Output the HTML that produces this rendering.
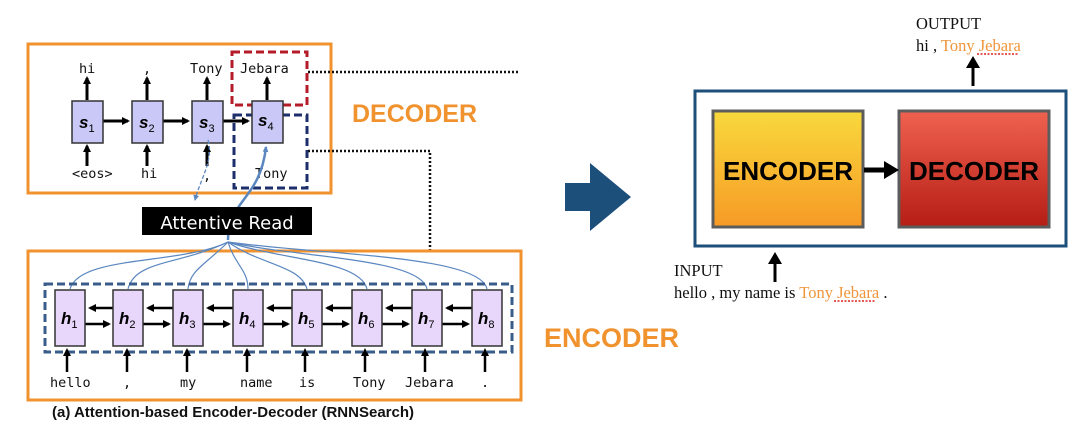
<!DOCTYPE html>
<html><head><style>
body{margin:0;background:#fff;width:1092px;height:442px;overflow:hidden;}
svg{display:block}
.m{font-family:"DejaVu Sans Mono","Liberation Mono",monospace;font-size:13.5px;fill:#111}
.hb{font-family:"Liberation Sans",sans-serif;font-weight:bold;font-style:italic;font-size:17px}
.sub{font-family:"Liberation Sans",sans-serif;font-size:11px;font-style:normal;font-weight:normal}
.se{font-family:"Liberation Serif",serif;font-size:16.5px;fill:#111}
</style></head><body>
<svg width="1092" height="442" viewBox="0 0 1092 442">
<defs>
<marker id="a" markerWidth="8" markerHeight="8" refX="6" refY="4" orient="auto" markerUnits="userSpaceOnUse"><path d="M0,0 L8,4 L0,8z" fill="#000"/></marker>
<marker id="b" markerWidth="6" markerHeight="6" refX="5" refY="3" orient="auto" markerUnits="userSpaceOnUse"><path d="M0,0 L6,3 L0,6z" fill="#5b87c0"/></marker>
<linearGradient id="ge" x1="0" y1="0" x2="0" y2="1"><stop offset="0" stop-color="#f8d93c"/><stop offset="1" stop-color="#f79a26"/></linearGradient>
<linearGradient id="gd" x1="0" y1="0" x2="0" y2="1"><stop offset="0" stop-color="#f06250"/><stop offset="1" stop-color="#b51d15"/></linearGradient>
</defs>
<rect x="28" y="44" width="303" height="149" fill="none" stroke="#f0932e" stroke-width="3"/>
<rect x="232" y="52" width="75" height="53" fill="none" stroke="#b51c2a" stroke-width="3" stroke-dasharray="8,4"/>
<rect x="234" y="115" width="73" height="73" fill="none" stroke="#1d2f6b" stroke-width="3" stroke-dasharray="8,4"/>
<path d="M308 72 H520" stroke="#111" stroke-width="2.5" stroke-dasharray="2,2"/>
<path d="M308 151 H430 V251 H520" fill="none" stroke="#111" stroke-width="2.5" stroke-dasharray="2,2"/>
<g stroke="#000" stroke-width="3">
<line x1="87" y1="100" x2="87" y2="78" marker-end="url(#a)"/><line x1="147" y1="100" x2="147" y2="78" marker-end="url(#a)"/>
<line x1="207" y1="100" x2="207" y2="78" marker-end="url(#a)"/><line x1="267" y1="100" x2="267" y2="78" marker-end="url(#a)"/>
<line x1="87" y1="166" x2="87" y2="146" marker-end="url(#a)"/><line x1="147" y1="166" x2="147" y2="146" marker-end="url(#a)"/>
<line x1="207" y1="166" x2="207" y2="146" marker-end="url(#a)"/>
<line x1="103" y1="121" x2="128" y2="121" marker-end="url(#a)"/><line x1="163" y1="121" x2="188" y2="121" marker-end="url(#a)"/>
<line x1="223" y1="121" x2="248" y2="121" marker-end="url(#a)"/>
</g>
<g fill="#c9c8f6" stroke="#333" stroke-width="1.5">
<rect x="72" y="101" width="31" height="42"/><rect x="132" y="101" width="31" height="42"/><rect x="192" y="101" width="31" height="42"/><rect x="252" y="101" width="31" height="42"/>
</g>
<g class="hb"><text x="79" y="128">s<tspan class="sub" dy="4">1</tspan></text><text x="139" y="128">s<tspan class="sub" dy="4">2</tspan></text><text x="199" y="128">s<tspan class="sub" dy="4">3</tspan></text><text x="258" y="126">s<tspan class="sub" dy="4">4</tspan></text></g>
<g class="m"><text x="79" y="73">hi</text><text x="143" y="73">,</text><text x="190" y="73">Tony</text><text x="240" y="73">Jebara</text>
<text x="72" y="178">&lt;eos&gt;</text><text x="141" y="178">hi</text><text x="203" y="180">,</text><text x="255" y="178">Tony</text></g>
<path d="M208 140 C214 160 200 180 195 200" fill="none" stroke="#5b87c0" stroke-width="1.3" stroke-dasharray="4,2" marker-end="url(#b)"/>
<path d="M228 240 C228 200 260 200 266 147" fill="none" stroke="#5b87c0" stroke-width="2.5" marker-end="url(#b)"/>
<text x="352" y="122" font-family="Liberation Sans,sans-serif" font-weight="bold" font-size="25" fill="#f0932e">DECODER</text>
<rect x="142" y="207" width="170" height="28" fill="#000"/>
<text x="227" y="229" text-anchor="middle" font-family="DejaVu Sans,sans-serif" font-size="18" fill="#fff">Attentive Read</text>
<rect x="28" y="251" width="493" height="149" fill="none" stroke="#f0932e" stroke-width="3"/>
<g fill="none" stroke="#5b87c0" stroke-width="1.2">
<path d="M228 242 C180 265 80 255 70 289"/><path d="M228 242 C180 265 135 260 128 289"/><path d="M228 242 C205 265 190 270 188 289"/>
<path d="M228 242 C235 265 248 270 248 289"/><path d="M228 242 C260 265 300 265 307 289"/><path d="M228 242 C280 260 360 260 367 289"/>
<path d="M228 242 C300 258 420 258 427 289"/><path d="M228 242 C320 255 480 255 487 289"/></g>
<rect x="45" y="284" width="467" height="68" fill="none" stroke="#3a5c8a" stroke-width="3" stroke-dasharray="8,4"/>
<g stroke="#000" stroke-width="2.5">
<line x1="113" y1="308" x2="90" y2="308" marker-end="url(#a)"/><line x1="85" y1="324" x2="109" y2="324" marker-end="url(#a)"/>
<line x1="173" y1="308" x2="148" y2="308" marker-end="url(#a)"/><line x1="143" y1="324" x2="169" y2="324" marker-end="url(#a)"/>
<line x1="233" y1="308" x2="208" y2="308" marker-end="url(#a)"/><line x1="203" y1="324" x2="229" y2="324" marker-end="url(#a)"/>
<line x1="292" y1="308" x2="268" y2="308" marker-end="url(#a)"/><line x1="263" y1="324" x2="288" y2="324" marker-end="url(#a)"/>
<line x1="352" y1="308" x2="327" y2="308" marker-end="url(#a)"/><line x1="322" y1="324" x2="348" y2="324" marker-end="url(#a)"/>
<line x1="412" y1="308" x2="387" y2="308" marker-end="url(#a)"/><line x1="382" y1="324" x2="408" y2="324" marker-end="url(#a)"/>
<line x1="472" y1="308" x2="447" y2="308" marker-end="url(#a)"/><line x1="442" y1="324" x2="468" y2="324" marker-end="url(#a)"/>
<line x1="67" y1="372" x2="67" y2="350" marker-end="url(#a)"/><line x1="127" y1="372" x2="127" y2="350" marker-end="url(#a)"/>
<line x1="187" y1="372" x2="187" y2="350" marker-end="url(#a)"/><line x1="247" y1="372" x2="247" y2="350" marker-end="url(#a)"/>
<line x1="305" y1="372" x2="305" y2="350" marker-end="url(#a)"/><line x1="365" y1="372" x2="365" y2="350" marker-end="url(#a)"/>
<line x1="425" y1="372" x2="425" y2="350" marker-end="url(#a)"/><line x1="485" y1="372" x2="485" y2="350" marker-end="url(#a)"/>
</g>
<g fill="#e8d6fb" stroke="#333" stroke-width="1.5">
<rect x="55" y="290" width="30" height="56"/><rect x="113" y="290" width="30" height="56"/><rect x="173" y="290" width="30" height="56"/><rect x="233" y="290" width="30" height="56"/>
<rect x="292" y="290" width="30" height="56"/><rect x="352" y="290" width="30" height="56"/><rect x="412" y="290" width="30" height="56"/><rect x="472" y="290" width="30" height="56"/>
</g>
<g class="hb"><text x="61" y="324">h<tspan class="sub" dy="4">1</tspan></text><text x="119" y="324">h<tspan class="sub" dy="4">2</tspan></text><text x="179" y="324">h<tspan class="sub" dy="4">3</tspan></text><text x="239" y="324">h<tspan class="sub" dy="4">4</tspan></text>
<text x="298" y="324">h<tspan class="sub" dy="4">5</tspan></text><text x="358" y="324">h<tspan class="sub" dy="4">6</tspan></text><text x="418" y="324">h<tspan class="sub" dy="4">7</tspan></text><text x="478" y="324">h<tspan class="sub" dy="4">8</tspan></text></g>
<g class="m"><text x="50" y="387">hello</text><text x="123" y="387">,</text><text x="180" y="387">my</text><text x="240" y="387">name</text><text x="299" y="387">is</text><text x="353" y="387">Tony</text><text x="405" y="387">Jebara</text><text x="481" y="387">.</text></g>
<text x="52" y="417" font-family="Liberation Sans,sans-serif" font-weight="bold" font-size="15" fill="#111">(a) Attention-based Encoder-Decoder (RNNSearch)</text>
<text x="544" y="347" font-family="Liberation Sans,sans-serif" font-weight="bold" font-size="27" fill="#f0932e">ENCODER</text>
<path d="M565 183 H590 V163 L631 197 L590 231 V211 H565z" fill="#1c4f7a"/>
<rect x="695" y="91" width="371" height="155" fill="none" stroke="#1c4f7a" stroke-width="3"/>
<rect x="713" y="111" width="150" height="116" fill="url(#ge)" stroke="#5c5c5c" stroke-width="3"/>
<rect x="899" y="111" width="150" height="116" fill="url(#gd)" stroke="#5c5c5c" stroke-width="3"/>
<text x="788" y="180" text-anchor="middle" font-family="Liberation Sans,sans-serif" font-weight="bold" font-size="26" fill="#000">ENCODER</text>
<text x="974" y="180" text-anchor="middle" font-family="Liberation Sans,sans-serif" font-weight="bold" font-size="26" fill="#000">DECODER</text>
<line x1="864" y1="170" x2="886" y2="170" stroke="#000" stroke-width="5"/><path d="M884 161 L899 170 L884 179z" fill="#000"/>
<line x1="973" y1="86" x2="973" y2="66" stroke="#000" stroke-width="3"/><path d="M966 68 L973 56 L980 68z" fill="#000"/>
<line x1="775" y1="282" x2="775" y2="262" stroke="#000" stroke-width="3"/><path d="M768 264 L775 252 L782 264z" fill="#000"/>
<text class="se" x="916" y="29">OUTPUT</text>
<text class="se" x="916" y="51">hi , <tspan fill="#f0953a">Tony Jebara</tspan></text>
<path d="M977 54 H1018" stroke="#d22" stroke-width="1.5" stroke-dasharray="2,1.5"/>
<text class="se" x="674" y="276">INPUT</text>
<text class="se" x="674" y="298">hello , my name is <tspan fill="#f0953a">Tony Jebara</tspan> .</text>
<path d="M834 301 H875" stroke="#d22" stroke-width="1.5" stroke-dasharray="2,1.5"/>
</svg>
</body></html>
